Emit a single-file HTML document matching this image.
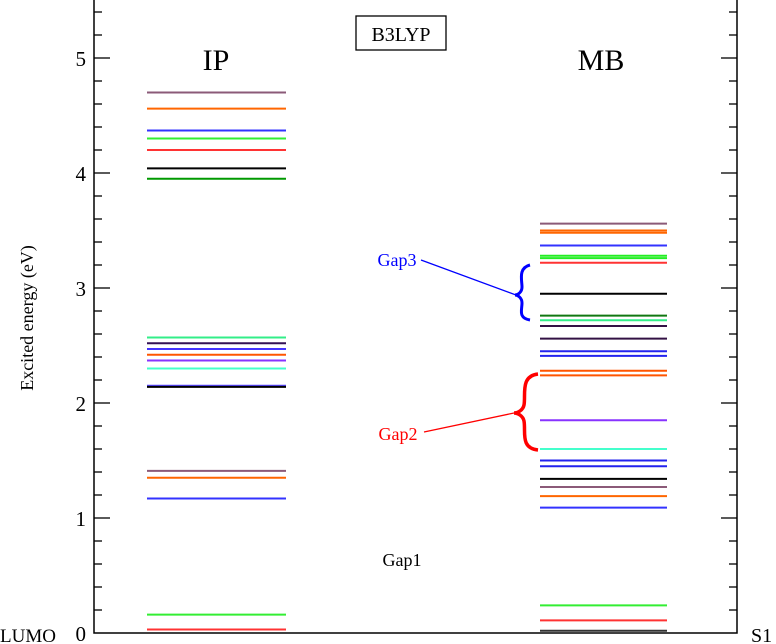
<!DOCTYPE html>
<html><head><meta charset="utf-8"><style>
body{margin:0;background:#fff;}
svg{display:block;font-family:"Liberation Serif",serif;}
</style></head><body>
<svg id="chart" width="776" height="644" viewBox="0 0 776 644" xmlns="http://www.w3.org/2000/svg">
<g id="levels"></g>
<g id="axes"></g>
<text x="216" y="70" font-size="30" text-anchor="middle">IP</text>
<text x="601" y="70" font-size="30" text-anchor="middle">MB</text>
<rect x="356" y="16" width="90" height="34" fill="none" stroke="#000" stroke-width="1.3"/>
<text x="401" y="41" font-size="20" text-anchor="middle">B3LYP</text>
<text x="402" y="566" font-size="18" text-anchor="middle">Gap1</text>
<text x="397" y="266" font-size="18" text-anchor="middle" fill="#0000ff">Gap3</text>
<text x="398" y="440" font-size="18" text-anchor="middle" fill="#ff0000">Gap2</text>
<line x1="421" y1="260" x2="516" y2="295" stroke="#0000ff" stroke-width="1.3"/>
<line x1="424" y1="432" x2="514" y2="413" stroke="#ff0000" stroke-width="1.3"/>
<path d="M530,265 C518,268 522,280 522,287 C522,292 518,295 515,295 C518,295 522,298 522,303 C522,310 518,318 530,320" fill="none" stroke="#0000ff" stroke-width="3"/>
<path d="M538,374 C520,376 526,395 524,405 C523,410 518,413 514,413 C518,413 523,416 524,421 C526,432 520,448 538,450" fill="none" stroke="#ff0000" stroke-width="3.5"/>
<text transform="translate(33,318) rotate(-90)" font-size="18" text-anchor="middle">Excited energy (eV)</text>
<text x="0" y="642" font-size="19">LUMO</text>
<text x="751" y="642" font-size="20">S1</text>
</svg>
<script>
const yTicks = [0, 1, 2, 3, 4, 5];
const ipValues = [4.70, 4.56, 4.37, 4.30, 4.20, 4.04, 3.95, 2.57, 2.52, 2.47, 2.42, 2.37, 2.30, 2.15, 2.14, 1.41, 1.35, 1.17, 0.16, 0.03];
const ipColors = ["#8b5a78","#ff6600","#3333ff","#33ee33","#ff3333","#000000","#009900","#33ee88","#331155","#4433ff","#ff5500","#8833ff","#44ffcc","#5544ff","#000000","#8b5a78","#ff6600","#3333ff","#33ee33","#ff3333"];
const mbValues = [3.56, 3.50, 3.48, 3.37, 3.28, 3.26, 3.22, 2.95, 2.76, 2.72, 2.67, 2.56, 2.45, 2.41, 2.28, 2.24, 1.85, 1.60, 1.50, 1.45, 1.34, 1.27, 1.19, 1.09, 0.24, 0.11, 0.02];
const mbColors = ["#8b5a78","#ff6600","#ff6600","#3333ff","#22ee22","#22ee22","#ff3333","#000000","#117711","#33ee88","#331144","#331144","#2222ee","#2222ee","#ff5500","#ff5500","#8833ff","#44ffcc","#2222ee","#2222ee","#000000","#8b5a78","#ff6600","#3333ff","#33ee33","#ff3333","#333333"];

const NS = "http://www.w3.org/2000/svg";
const X0 = 94, X1 = 737, Y0 = 633, PX = 115;
function yScale(v){ return Y0 - v * PX; }

const levels = document.getElementById('levels');
function drawLevels(vals, cols, xa, xb, prefix){
  vals.forEach((v, i) => {
    const l = document.createElementNS(NS, 'line');
    l.setAttribute('x1', xa); l.setAttribute('x2', xb);
    l.setAttribute('y1', yScale(v)); l.setAttribute('y2', yScale(v));
    l.setAttribute('stroke', cols[i]); l.setAttribute('stroke-width', '2');
    
    
    levels.appendChild(l);
  });
}
drawLevels(ipValues, ipColors, 147, 286, 'ip');
drawLevels(mbValues, mbColors, 540, 667, 'mb');

const axes = document.getElementById('axes');
const frame = document.createElementNS(NS, 'path');
frame.setAttribute('d', `M${X0},0 V${Y0} H${X1} V0`);
frame.setAttribute('fill', 'none'); frame.setAttribute('stroke', '#000'); frame.setAttribute('stroke-width', '1.5');


axes.appendChild(frame);
for (let k = 1; k <= 27; k++) {
  const v = k * 0.2; const y = yScale(v);
  if (y < 2) break;
  const major = k % 5 === 0; const len = major ? 16 : 8;
  [[X0, X0 + len], [X1, X1 - len]].forEach(p => {
    const t = document.createElementNS(NS, 'line');
    t.setAttribute('x1', p[0]); t.setAttribute('x2', p[1]);
    t.setAttribute('y1', y); t.setAttribute('y2', y);
    t.setAttribute('stroke', '#000'); t.setAttribute('stroke-width', '1.3');
    
    
    axes.appendChild(t);
  });
}
yTicks.forEach(v => {
  const t = document.createElementNS(NS, 'text');
  t.setAttribute('x', 86); t.setAttribute('y', yScale(v) + 8);
  t.setAttribute('font-size', '21'); t.setAttribute('text-anchor', 'end');
  
  
  t.textContent = v;
  axes.appendChild(t);
});
</script>
</body></html>
